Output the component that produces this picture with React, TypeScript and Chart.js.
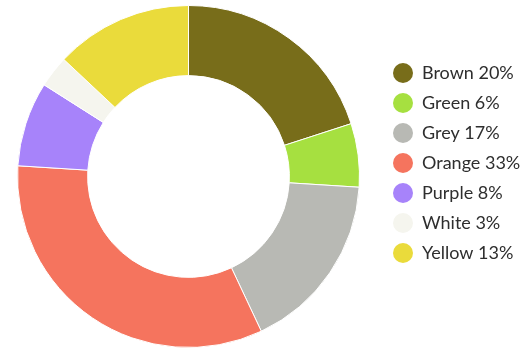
import React, { useEffect, useRef } from "react";
import { Chart, registerables } from "chart.js";

Chart.register(...registerables);

const categories = ["Brown", "Green", "Grey", "Orange", "Purple", "White", "Yellow"];
const values = [20, 6, 17, 33, 8, 3, 13];
const colors = ["#786d1a", "#a6e040", "#b8b9b4", "#f5745e", "#a783fa", "#f5f5ee", "#eadb3b"];

const SHIFT = 6;
const W = 531 + SHIFT;
const H = 349;
const FONT_FAMILY = "Lato, 'Open Sans', sans-serif";
const FONT_SIZE = 18;

export default function App() {
  const ref = useRef<HTMLCanvasElement | null>(null);

  useEffect(() => {
    if (!ref.current) return;
    const labels = categories.map((c, i) => `${c} ${values[i]}%`);

    const m = document.createElement("canvas").getContext("2d")!;
    m.font = `${FONT_SIZE}px ${FONT_FAMILY}`;
    const maxW = Math.max(...labels.map((l) => m.measureText(l).width));
    const boxW = 20;
    const legendPad = 10;
    const legendWidth = legendPad + boxW + FONT_SIZE / 2 + maxW + 10;
    const legendLeft = 383 + SHIFT;
    const padRight = Math.max(0, W - legendLeft - legendWidth);

    const chart = new Chart(ref.current, {
      type: "doughnut",
      data: {
        labels,
        datasets: [
          {
            data: values,
            backgroundColor: colors,
            borderColor: "#ffffff",
            borderWidth: 1,
          },
        ],
      },
      options: {
        responsive: false,
        animation: false,
        cutout: "59%",
        layout: { padding: { left: 0, right: padRight, top: 5, bottom: 1 } },
        plugins: {
          tooltip: { enabled: false },
          legend: {
            position: "right",
            align: "start",
            title: {
              display: true,
              text: "",
              font: { size: 12, lineHeight: 1.2 },
              padding: { top: 48 - 14.4, bottom: 0 },
            },
            labels: {
              boxWidth: boxW,
              boxHeight: 20,
              padding: legendPad,
              color: "#2e2e2e",
              font: { family: FONT_FAMILY, size: FONT_SIZE },
              generateLabels: (ch: any) =>
                ch.data.labels.map((t: string, i: number) => ({
                  text: t,
                  fillStyle: colors[i],
                  strokeStyle: colors[i],
                  lineWidth: 0,
                  borderRadius: 10,
                  hidden: false,
                  index: i,
                  fontColor: "#2e2e2e",
                })),
            },
          },
        },
      },
    });
    return () => chart.destroy();
  }, []);

  return (
    <div style={{ position: "absolute", left: -SHIFT, top: 0, width: W, height: H, overflow: "hidden" }}>
      <canvas ref={ref} width={W} height={H} style={{ display: "block" }} />
    </div>
  );
}
